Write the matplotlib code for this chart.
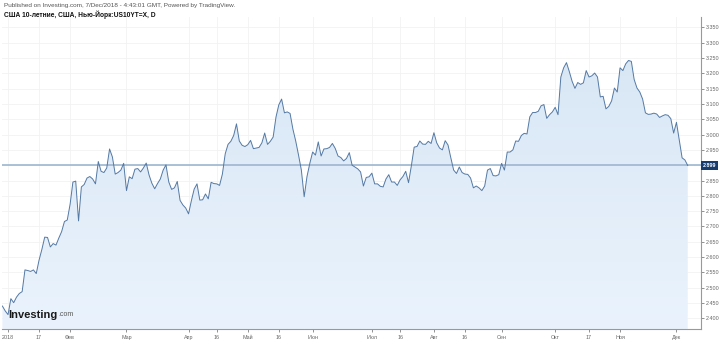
import numpy as np
import pandas as pd
import matplotlib
matplotlib.use("Agg")
import matplotlib.pyplot as plt
from matplotlib.transforms import blended_transform_factory

plt.rcParams['font.family'] = ['Liberation Sans', 'DejaVu Sans']

# trading days shown on the chart (weekdays, a few holidays missing)
dates = pd.bdate_range('2017-12-28', '2018-12-07', freq='C',
                       holidays=['2018-01-01', '2018-11-12', '2018-11-22'])

# US 10Y yield, one value per trading day
yields = [
    2.440, 2.424, 2.412, 2.464, 2.451, 2.469, 2.481, 2.487, 2.558, 2.556,
    2.553, 2.558, 2.546, 2.590, 2.625, 2.665, 2.664, 2.633, 2.644, 2.639,
    2.662, 2.683, 2.716, 2.721, 2.772, 2.845, 2.848, 2.718, 2.829, 2.837,
    2.858, 2.863, 2.855, 2.839, 2.912, 2.880, 2.876, 2.891, 2.953, 2.927,
    2.871, 2.876, 2.884, 2.906, 2.817, 2.862, 2.856, 2.887, 2.889, 2.878,
    2.891, 2.907, 2.868, 2.841, 2.823, 2.840, 2.855, 2.884, 2.901, 2.845,
    2.821, 2.826, 2.847, 2.785, 2.770, 2.760, 2.741, 2.784, 2.822, 2.839,
    2.786, 2.787, 2.806, 2.790, 2.844, 2.840, 2.839, 2.834, 2.871, 2.937,
    2.968, 2.978, 2.997, 3.035, 2.979, 2.965, 2.961, 2.967, 2.981, 2.954,
    2.956, 2.958, 2.973, 3.005, 2.968, 2.978, 2.992, 3.057, 3.097, 3.116,
    3.071, 3.074, 3.069, 3.018, 2.979, 2.933, 2.884, 2.797, 2.863, 2.906,
    2.943, 2.933, 2.976, 2.930, 2.953, 2.954, 2.958, 2.971, 2.955, 2.930,
    2.925, 2.914, 2.922, 2.941, 2.900, 2.894, 2.888, 2.878, 2.832, 2.860,
    2.862, 2.874, 2.839, 2.839, 2.831, 2.829, 2.855, 2.869, 2.845, 2.845,
    2.834, 2.852, 2.863, 2.880, 2.843, 2.898, 2.959, 2.961, 2.979, 2.969,
    2.968, 2.978, 2.971, 3.006, 2.973, 2.956, 2.950, 2.980, 2.966, 2.924,
    2.884, 2.873, 2.894, 2.876, 2.871, 2.870, 2.858, 2.826, 2.832, 2.826,
    2.817, 2.832, 2.884, 2.889, 2.866, 2.865, 2.869, 2.906, 2.884, 2.943,
    2.943, 2.950, 2.979, 2.978, 2.997, 3.004, 3.002, 3.058, 3.072, 3.072,
    3.076, 3.094, 3.098, 3.053, 3.065, 3.074, 3.089, 3.065, 3.188, 3.218,
    3.235, 3.206, 3.174, 3.151, 3.170, 3.164, 3.169, 3.209, 3.188, 3.192,
    3.201, 3.188, 3.123, 3.125, 3.084, 3.092, 3.110, 3.152, 3.139, 3.218,
    3.209, 3.231, 3.242, 3.239, 3.180, 3.152, 3.139, 3.116, 3.071, 3.066,
    3.067, 3.070, 3.067, 3.056, 3.061, 3.065, 3.063, 3.052, 3.005, 3.040,
    2.982, 2.924, 2.917, 2.899,
]

tick_dates = ['2018-01-02', '2018-01-17', '2018-02-01', '2018-03-01', '2018-04-02',
              '2018-04-16', '2018-05-01', '2018-05-16', '2018-06-01', '2018-07-02',
              '2018-07-16', '2018-08-01', '2018-08-16', '2018-09-04', '2018-10-01',
              '2018-10-17', '2018-11-01', '2018-12-03']
tick_labels = ['2018', '17', 'Фев', 'Мар', 'Апр', '16', 'Май', '16', 'Июн', 'Июл',
               '16', 'Авг', '16', 'Сен', 'Окт', '17', 'Ноя', 'Дек']
y_ticks = np.round(np.arange(2.40, 3.351, 0.05), 3)

n = min(len(dates), len(yields))
series = pd.Series(yields[:n], index=dates[:n])
x = np.arange(n)
last = series.iloc[-1]

fig = plt.figure(figsize=(7.19, 3.40), dpi=100)
ax = fig.add_axes([2 / 719, 11 / 340, 699 / 719, 312 / 340])
ax.set_xlim(-0.14, 247.7)
ax.set_ylim(2.365, 3.384)

# gradient fill under the line
poly = ax.fill_between(x, series.values, 2.365, color='none')
grad = np.linspace(0, 1, 256).reshape(-1, 1)
cmap = matplotlib.colors.LinearSegmentedColormap.from_list(
    'fill', ['#eaf3fd', '#d9e7f5'])
img = ax.imshow(grad, cmap=cmap, aspect='auto', origin='lower',
                extent=[x[0], x[-1], 2.365, series.max()], zorder=1)
img.set_clip_path(poly.get_paths()[0], transform=ax.transData)

ax.plot(x, series.values, color='#5479a4', lw=0.7, zorder=3)
ax.axhline(last, color='#9db5cf', lw=1.2, zorder=2)

tick_pos = [series.index.get_loc(pd.Timestamp(d)) for d in tick_dates]
ax.set_xticks(tick_pos)
ax.set_xticklabels(tick_labels)
ax.set_yticks(y_ticks)
# the label next to the last value is hidden by the price marker
ax.set_yticklabels(['' if abs(v - last) < 0.03 else f'{v:.3f}' for v in y_ticks])
ax.yaxis.tick_right()
ax.tick_params(axis='both', labelsize=3.9, colors='#666666', length=2.5, width=0.5)
ax.tick_params(axis='y', pad=1)
ax.tick_params(axis='x', pad=1.5)
ax.grid(True, color='#f2f2f2', lw=0.6, zorder=0)
ax.set_axisbelow(True)
for side in ['top', 'left']:
    ax.spines[side].set_visible(False)
for side in ['right', 'bottom']:
    ax.spines[side].set_color('#999999')
    ax.spines[side].set_linewidth(0.8)

# last value marker on the price scale
tr = blended_transform_factory(ax.transAxes, ax.transData)
ax.text(1.003, last, f'{last:.3f}', transform=tr, fontsize=3.9, color='white',
        va='center', ha='left', fontweight='bold', zorder=5,
        bbox=dict(boxstyle='square,pad=0.3', fc='#173b6c', ec='none'))

fig.text(4 / 719, 1 - 6 / 340, 'Published on Investing.com, 7/Dec/2018 - 4:43:01 GMT, '
         'Powered by TradingView.', fontsize=4.6, color='#555555', va='center')
fig.text(4 / 719, 1 - 15 / 340, 'США 10-летние, США, Нью-Йорк:US10YT=X, D',
         fontsize=4.8, color='#111111', fontweight='bold', va='center')

# watermark logo
logo = ax.text(0.009, 0.035, 'Investing', transform=ax.transAxes, fontsize=8,
               fontweight='bold', color='#1a1a1a', va='baseline', zorder=6)
ax.annotate('.com', xy=(1, 0), xycoords=logo, xytext=(0.3, 1.2),
            textcoords='offset points', fontsize=5, color='#555555',
            va='bottom', ha='left', zorder=6)

fig.savefig('out.png', dpi=100)
